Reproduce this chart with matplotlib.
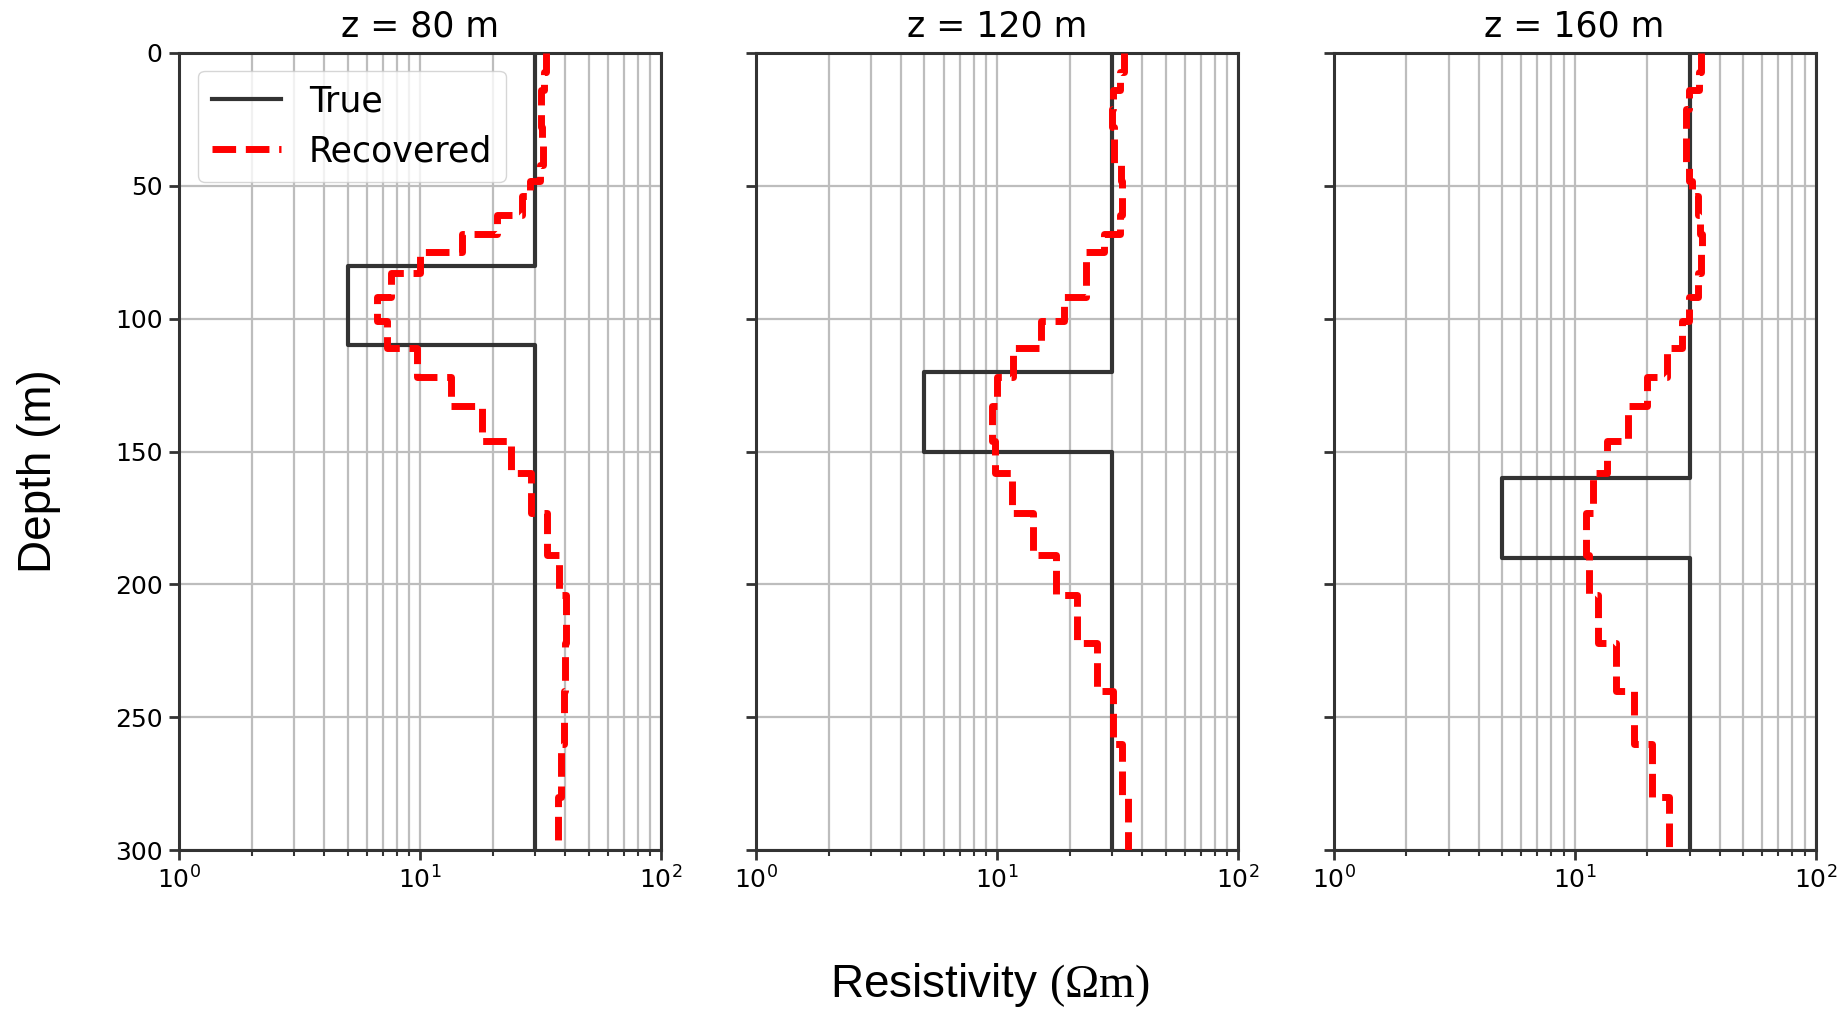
import numpy as np
import matplotlib
matplotlib.use("Agg")
import matplotlib.pyplot as plt

# ---------------- data ----------------
titles = ["z = 80 m", "z = 120 m", "z = 160 m"]
background_rho = 30.0
block_rho = 5.0
block_tops = [80, 120, 160]
block_bottoms = [110, 150, 190]
max_depth = 300

# layer boundaries of the recovered (inverted) model, m
layer_bounds = [0, 7, 14, 21, 28, 35, 42, 48, 54, 61, 68, 75, 83, 92, 101,
                111, 122, 133, 146, 158, 173, 189, 204, 222, 240, 260, 280, 300]

# recovered resistivity per layer (Ohm m)
rec_z80 = [33.2, 32.6, 31.8, 31.8, 32.0, 32.3, 31.5, 28.7, 26.5, 20.9, 14.9, 10.0,
           7.6, 6.6, 7.3, 9.7, 13.5, 18.0, 23.9, 28.9, 33.7, 37.7, 40.2, 40.0,
           39.5, 38.5, 37.3]
rec_z120 = [33.7, 32.5, 30.2, 30.0, 30.5, 30.5, 32.6, 33.0, 33.0, 32.5, 27.8, 23.3,
            23.5, 19.0, 15.2, 11.7, 10.0, 9.5, 9.8, 11.5, 14.1, 17.5, 21.5, 26.1,
            30.2, 32.9, 34.8]
rec_z160 = [33.5, 32.8, 29.9, 28.9, 28.9, 28.9, 29.9, 30.6, 32.4, 33.0, 33.8, 33.5,
            32.4, 29.9, 28.0, 24.2, 19.9, 16.6, 13.6, 11.9, 11.2, 11.5, 12.5, 14.9,
            17.6, 20.9, 24.7]
recovered = [rec_z80, rec_z120, rec_z160]

legend_labels = ["True", "Recovered"]
xlabel = "Resistivity $(\\Omega\\mathrm{m})$"
ylabel = "Depth (m)"
yticks = [0, 50, 100, 150, 200, 250, 300]

# ---------------- style ----------------
plt.rcParams["font.family"] = ["DejaVu Sans"]
plt.rcParams["mathtext.fontset"] = "custom"
plt.rcParams["mathtext.rm"] = "Liberation Serif"
plt.rcParams["mathtext.it"] = "Liberation Serif:italic"
plt.rcParams["mathtext.bf"] = "Liberation Serif:bold"

fig = plt.figure(figsize=(18.44, 10.11), dpi=100)

lefts = [0.0971, 0.410, 0.7232]
bottom, width, height = 0.1592, 0.2614, 0.7884
edge = "#333333"

for i in range(3):
    ax = fig.add_axes([lefts[i], bottom, width, height])
    # true model
    t_bounds = [0, block_tops[i], block_bottoms[i], max_depth]
    t_rho = [background_rho, block_rho, background_rho]
    ty = np.repeat(t_bounds, 2)[1:-1]
    tx = np.repeat(t_rho, 2)
    ax.plot(tx, ty, color=edge, lw=3.0, label=legend_labels[0], zorder=3)
    # recovered model
    ry = np.repeat(layer_bounds, 2)[1:-1]
    rx = np.repeat(recovered[i], 2)
    ax.plot(rx, ry, color="red", lw=5.0, ls=(0, (3.4, 1.4)),
            label=legend_labels[1], zorder=4)

    ax.set_xscale("log")
    ax.set_xlim(1, 100)
    ax.set_ylim(max_depth, 0)
    ax.set_yticks(yticks)
    ax.grid(True, which="both", axis="x", color="#bdbdbd", lw=1.6)
    ax.grid(True, which="major", axis="y", color="#bdbdbd", lw=1.6)
    ax.set_axisbelow(True)
    for s in ax.spines.values():
        s.set_color(edge)
        s.set_linewidth(2.2)
    ax.tick_params(axis="both", which="major", length=7, width=2, color=edge,
                   labelsize=18, pad=5)
    ax.tick_params(axis="x", which="minor", length=4, width=1.5, color=edge)
    if i > 0:
        ax.tick_params(axis="y", labelleft=False)
    ax.set_title(titles[i], fontsize=25, pad=12)
    if i == 0:
        ax.legend(loc="upper left", bbox_to_anchor=(0.0386, 0.978),
                  borderaxespad=0, fontsize=25, handlelength=2.0,
                  labelspacing=0.45, framealpha=0.8, edgecolor="#cccccc")

fig.text(0.537, 0.026, xlabel, ha="center", va="center", fontsize=33,
         family=["Liberation Sans", "DejaVu Sans"])
fig.text(0.021, 0.534, ylabel, ha="center", va="center", rotation=90,
         fontsize=33, family=["Liberation Sans", "DejaVu Sans"])

fig.savefig("out.png", dpi=100)
